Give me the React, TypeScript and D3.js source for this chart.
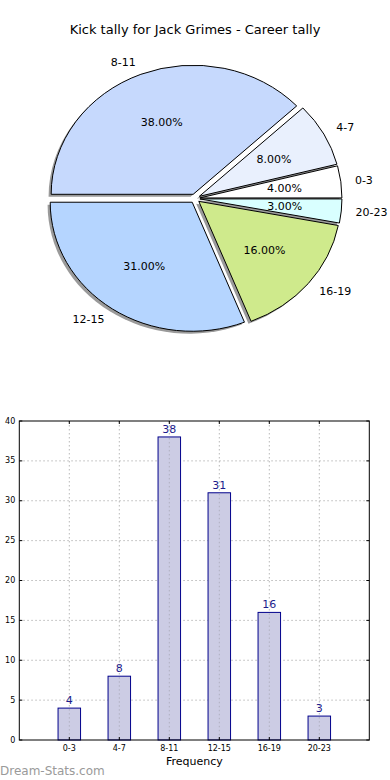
import React from "react";
import * as d3 from "d3";

const categories = ["0-3", "4-7", "8-11", "12-15", "16-19", "20-23"];
const counts = [4, 8, 38, 31, 16, 3];
const sliceColors = ["#ffffff", "#e9f0fd", "#c6d9fd", "#b5d5ff", "#cfea8c", "#d9ffff"];
const yTicks = [0, 5, 10, 15, 20, 25, 30, 35, 40];
const title = "Kick tally for Jack Grimes - Career tally";

const W = 390;
const H = 780;
const FONT = "DejaVu Sans, Verdana, sans-serif";

export default function App() {
  // Pie geometry
  const cx = 195, cy = 198.5, rx = 142, ry = 129;
  const explode = 0.035;
  const shadowDx = -2.6, shadowDy = 2.4;
  const total = d3.sum(counts);
  const pie = d3
    .pie<number>()
    .sort(null)
    .value((d) => d)
    .startAngle(Math.PI / 2)
    .endAngle(Math.PI / 2 - 2 * Math.PI);
  const arcs = pie(counts);
  const arcGen = d3.arc<any>().innerRadius(0).outerRadius(1);

  const slices = arcs.map((a, i) => {
    const mid = (a.startAngle + a.endAngle) / 2;
    const ux = Math.sin(mid);
    const uy = -Math.cos(mid);
    const ox = explode * rx * ux;
    const oy = explode * ry * uy;
    return { a, i, ux, uy, ox, oy };
  });

  // Bar geometry
  const left = 19.3, right = 369.3, top = 421, bottom = 740;
  const x = d3.scaleLinear().domain([0, 7]).range([left, right]);
  const y = d3.scaleLinear().domain([0, 40]).range([bottom, top]);
  const barW = x(0.45) - x(0);
  const xPos = categories.map((_, i) => i + 1);

  return (
    <svg
      width={W}
      height={H}
      style={{ position: "absolute", left: 0, top: 0, background: "#fff" }}
      fontFamily={FONT}
    >
      <rect x={0} y={0} width={W} height={H} fill="#fff" />
      <text x={195} y={34} textAnchor="middle" fontSize={13} fill="#000">
        {title}
      </text>

      {/* shadows */}
      {slices.map((s) => (
        <path
          key={"sh" + s.i}
          d={arcGen(s.a) || ""}
          transform={`translate(${cx + s.ox + shadowDx},${cy + s.oy + shadowDy}) scale(${rx},${ry})`}
          fill="#9a9a9a"
          stroke="none"
        />
      ))}
      {/* slices */}
      {slices.map((s) => (
        <path
          key={"sl" + s.i}
          d={arcGen(s.a) || ""}
          transform={`translate(${cx + s.ox},${cy + s.oy}) scale(${rx},${ry})`}
          fill={sliceColors[s.i]}
          stroke="#000"
          strokeWidth={1}
          vectorEffect="non-scaling-stroke"
        />
      ))}
      {/* labels */}
      {slices.map((s) => {
        const lx = cx + s.ox + 1.1 * rx * s.ux;
        const ly = cy + s.oy + 1.1 * ry * s.uy;
        return (
          <text
            key={"lb" + s.i}
            x={lx}
            y={ly}
            textAnchor={s.ux > 0 ? "start" : "end"}
            dominantBaseline="central"
            fontSize={11}
            fill="#000"
          >
            {categories[s.i]}
          </text>
        );
      })}
      {slices.map((s) => {
        const lx = cx + s.ox + 0.6 * rx * s.ux;
        const ly = cy + s.oy + 0.6 * ry * s.uy;
        return (
          <text
            key={"pc" + s.i}
            x={lx}
            y={ly}
            textAnchor="middle"
            dominantBaseline="central"
            fontSize={11}
            fill="#000"
          >
            {((counts[s.i] / total) * 100).toFixed(2) + "%"}
          </text>
        );
      })}

      {/* Bar chart */}
      <g>
        {yTicks.slice(1, -1).map((t) => (
          <line
            key={"gy" + t}
            x1={left}
            x2={right}
            y1={y(t)}
            y2={y(t)}
            stroke="#b8b8b8"
            strokeWidth={1}
            strokeDasharray="1.5,2.5"
          />
        ))}
        {d3.range(1, 7).map((t) => (
          <line
            key={"gx" + t}
            x1={x(t)}
            x2={x(t)}
            y1={top}
            y2={bottom}
            stroke="#b8b8b8"
            strokeWidth={1}
            strokeDasharray="1.5,2.5"
          />
        ))}
        {counts.map((c, i) => (
          <rect
            key={"b" + i}
            x={x(xPos[i]) - barW / 2}
            y={y(c)}
            width={barW}
            height={y(0) - y(c)}
            fill="#ccccE4"
            stroke="#00008b"
            strokeWidth={1}
          />
        ))}
        {counts.map((c, i) => (
          <line
            key={"go" + i}
            x1={x(xPos[i])}
            x2={x(xPos[i])}
            y1={y(c) + 1}
            y2={bottom}
            stroke="#b0b0c0"
            strokeWidth={1}
            strokeDasharray="1.5,2.5"
          />
        ))}
        {counts.map((c, i) => (
          <text
            key={"v" + i}
            x={x(xPos[i])}
            y={y(c) - 4}
            textAnchor="middle"
            fontSize={11}
            fill="#1c1c8c"
          >
            {c}
          </text>
        ))}
        <rect x={left} y={top} width={right - left} height={bottom - top} fill="none" stroke="#000" strokeWidth={1} />
        {yTicks.map((t) => (
          <g key={"yt" + t}>
            <line x1={left} x2={left + 3} y1={y(t)} y2={y(t)} stroke="#000" />
            <line x1={right} x2={right - 3} y1={y(t)} y2={y(t)} stroke="#000" />
            <text x={left - 4} y={y(t)} textAnchor="end" dominantBaseline="central" fontSize={8} fill="#000">
              {t}
            </text>
          </g>
        ))}
        {xPos.map((p, i) => (
          <g key={"xt" + i}>
            <line x1={x(p)} x2={x(p)} y1={bottom} y2={bottom - 3} stroke="#000" />
            <line x1={x(p)} x2={x(p)} y1={top} y2={top + 3} stroke="#000" />
            <text x={x(p)} y={bottom + 8} textAnchor="middle" dominantBaseline="central" fontSize={8} fill="#000">
              {categories[i]}
            </text>
          </g>
        ))}
        <text x={(left + right) / 2} y={761} textAnchor="middle" dominantBaseline="central" fontSize={11} fill="#000">
          Frequency
        </text>
      </g>
      <text x={0} y={775} fontSize={12} fill="#9a9a9a">
        Dream-Stats.com
      </text>
    </svg>
  );
}
